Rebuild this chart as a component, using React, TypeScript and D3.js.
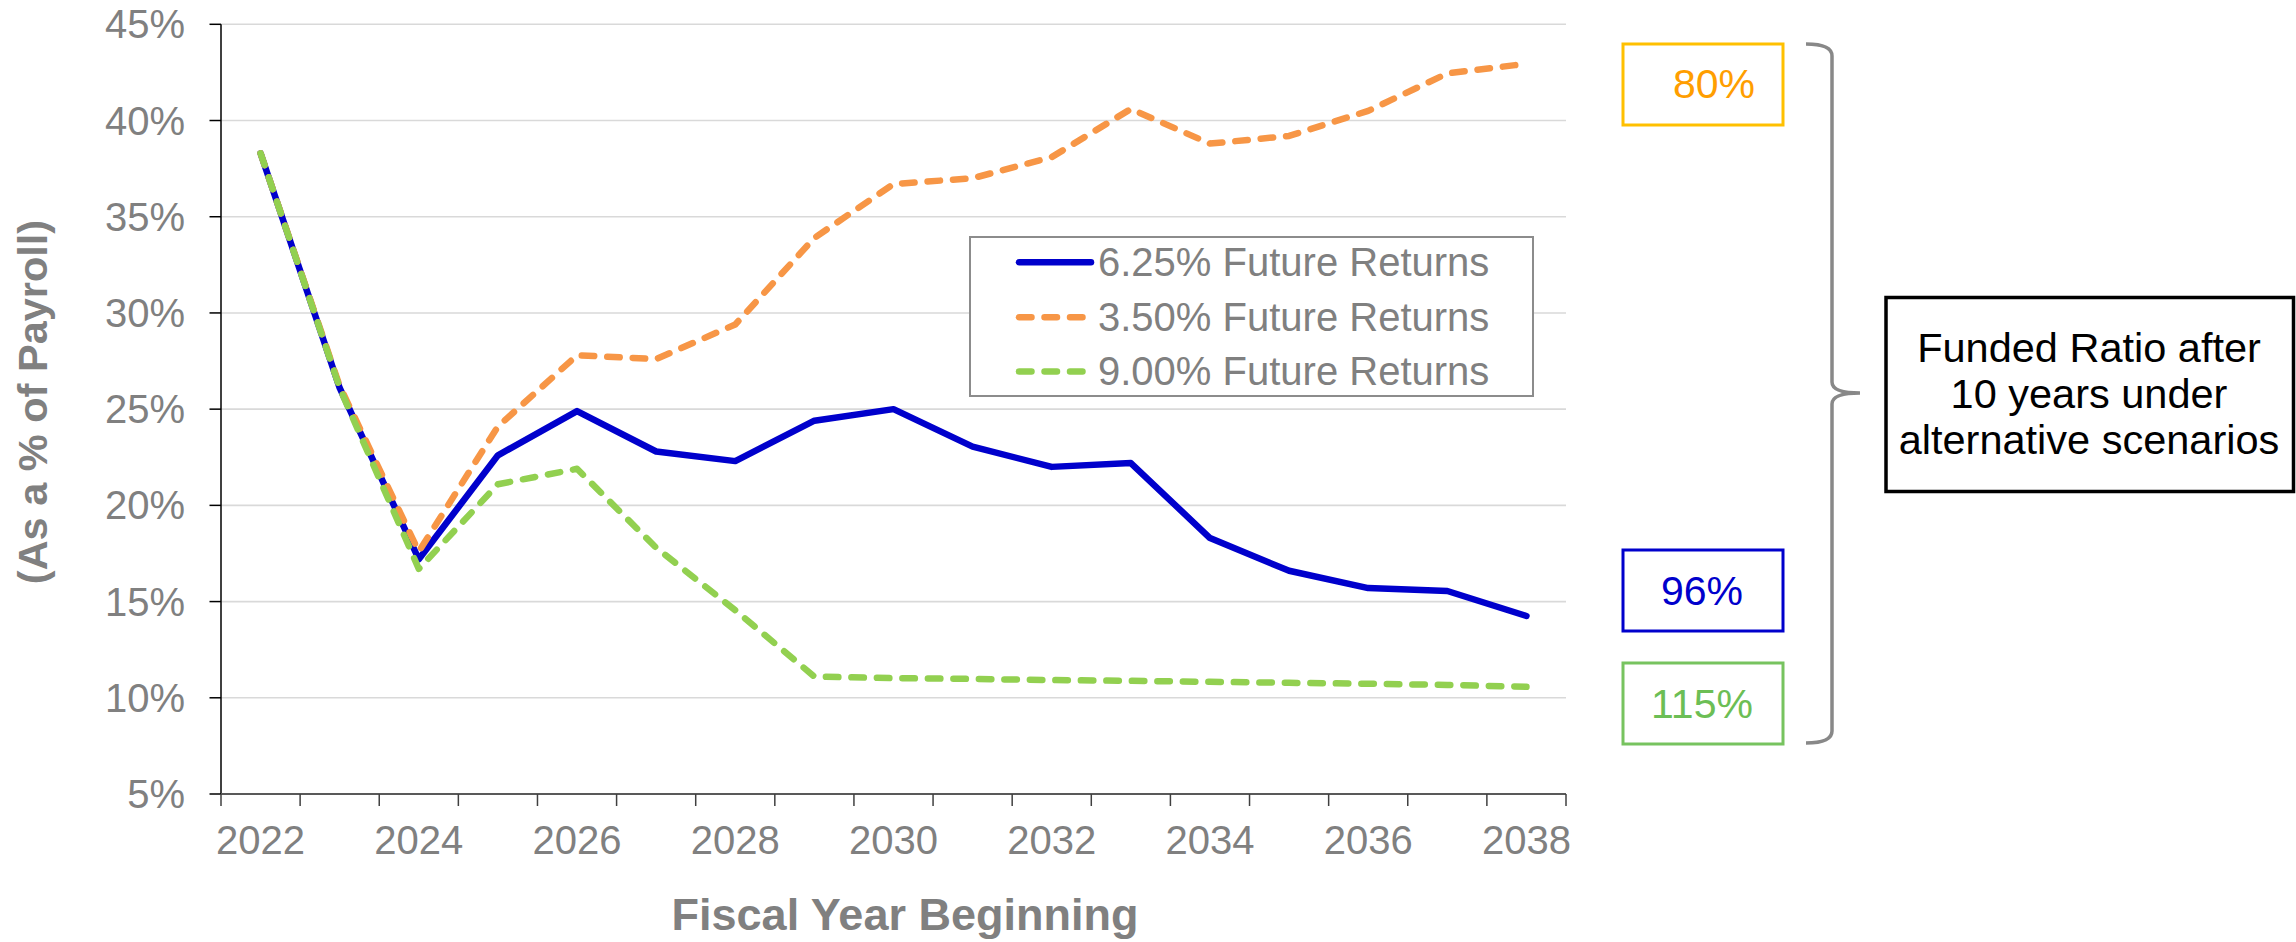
import React from 'react';
import * as d3 from 'd3';

const years = [2022, 2023, 2024, 2025, 2026, 2027, 2028, 2029, 2030, 2031, 2032, 2033, 2034, 2035, 2036, 2037, 2038];
const xTickYears = [2022, 2024, 2026, 2028, 2030, 2032, 2034, 2036, 2038];
const yTicks = [5, 10, 15, 20, 25, 30, 35, 40, 45];

const seriesNames = ['6.25% Future Returns', '3.50% Future Returns', '9.00% Future Returns'];
const returns625 = [38.3, 26.1, 17.2, 22.6, 24.9, 22.8, 22.3, 24.4, 25.0, 23.05, 22.0, 22.2, 18.3, 16.6, 15.7, 15.55, 14.25];
const returns350 = [38.3, 26.2, 17.6, 24.1, 27.8, 27.6, 29.4, 33.9, 36.7, 37.0, 38.1, 40.6, 38.8, 39.2, 40.5, 42.45, 42.95];
const returns900 = [38.3, 26.1, 16.7, 21.1, 21.9, 17.8, 14.55, 11.1, 11.02, 10.98, 10.92, 10.88, 10.83, 10.78, 10.73, 10.67, 10.57];

const fundedRatios = ['80%', '96%', '115%'];
const noteLines = ['Funded Ratio after', '10 years under', 'alternative scenarios'];
const xTitle = 'Fiscal Year Beginning';
const yTitle = '(As a % of Payroll)';

const W = 2296;
const H = 942;
const FONT = '"Liberation Sans", Arial, Helvetica, sans-serif';
const GRAY = '#808080';

const seriesColors = ['#0000CC', '#F79646', '#92D050'];
const seriesDash = [null, '12.5,13', '12.5,13'];
const seriesData = [returns625, returns350, returns900];

export default function App() {
  const left = 221;
  const right = 1566;
  const top = 24.3;
  const bottom = 794;

  const x = d3.scaleBand<number>().domain(years).range([left, right]).padding(0);
  const bw = x.bandwidth();
  const cx = (yr: number) => (x(yr) as number) + bw / 2;
  const y = d3.scaleLinear().domain([5, 45]).range([bottom, top]);

  const line = d3
    .line<number>()
    .x((_, i) => cx(years[i]))
    .y((d) => y(d));

  const boundaries = years.map((yr) => x(yr) as number).concat([right]);

  const boxes = [
    { label: fundedRatios[0], x0: 1623, y0: 44, stroke: '#FFC000', fill: '#FF9E00', tx: 1714, ty: 97.5 },
    { label: fundedRatios[1], x0: 1623, y0: 550, stroke: '#0000CC', fill: '#0000CC', tx: 1702, ty: 604.5 },
    { label: fundedRatios[2], x0: 1623, y0: 663, stroke: '#77C35F', fill: '#6CBE55', tx: 1702, ty: 717.5 },
  ];

  return (
    <svg
      width={W}
      height={H}
      viewBox={`0 0 ${W} ${H}`}
      style={{ position: 'absolute', left: 0, top: 0, background: '#fff' }}
      fontFamily={FONT}
    >
      <rect x={0} y={0} width={W} height={H} fill="#fff" />

      {yTicks
        .filter((t) => t !== 5)
        .map((t) => (
          <line key={'g' + t} x1={left} x2={right} y1={y(t)} y2={y(t)} stroke="#D9D9D9" strokeWidth={1.6} />
        ))}

      <line x1={left} x2={left} y1={top} y2={bottom} stroke="#000" strokeWidth={1.5} />
      {yTicks.map((t) => (
        <g key={'yt' + t}>
          <line x1={left - 11.5} x2={left} y1={y(t)} y2={y(t)} stroke="#000" strokeWidth={1.5} />
          <text x={185} y={y(t) + 14} textAnchor="end" fontSize={40} fill={GRAY}>
            {t}%
          </text>
        </g>
      ))}

      <line x1={left} x2={right} y1={bottom} y2={bottom} stroke="#595959" strokeWidth={2} />
      {boundaries.map((b, i) => (
        <line key={'xt' + i} x1={b} x2={b} y1={bottom} y2={bottom + 12} stroke="#404040" strokeWidth={1.5} />
      ))}
      {xTickYears.map((yr) => (
        <text key={'xl' + yr} x={cx(yr)} y={854} textAnchor="middle" fontSize={40} fill={GRAY}>
          {yr}
        </text>
      ))}

      <text x={905} y={930} textAnchor="middle" fontSize={45} fontWeight="bold" fill={GRAY}>
        {xTitle}
      </text>
      <text
        transform={`translate(47,402) rotate(-90)`}
        textAnchor="middle"
        fontSize={41.5}
        fontWeight="bold"
        fill={GRAY}
      >
        {yTitle}
      </text>

      {seriesData.map((data, i) => (
        <path
          key={'s' + i}
          d={line(data) as string}
          fill="none"
          stroke={seriesColors[i]}
          strokeWidth={6.5}
          strokeLinejoin="round"
          strokeLinecap="round"
          strokeDasharray={seriesDash[i] ?? undefined}
        />
      ))}

      <rect x={970} y={237} width={563} height={159} fill="#fff" stroke="#8C8C8C" strokeWidth={2} />
      {seriesNames.map((name, i) => {
        const ly = [262.3, 317.3, 371.5][i];
        return (
          <g key={'lg' + i}>
            <line
              x1={1019}
              x2={1091}
              y1={ly}
              y2={ly}
              stroke={seriesColors[i]}
              strokeWidth={6.5}
              strokeLinecap="round"
              strokeDasharray={seriesDash[i] ?? undefined}
            />
            <text x={1098} y={ly + 13.5} fontSize={40} fill={GRAY}>
              {name}
            </text>
          </g>
        );
      })}

      {boxes.map((b, i) => (
        <g key={'b' + i}>
          <rect x={b.x0} y={b.y0} width={160} height={81} fill="#fff" stroke={b.stroke} strokeWidth={3} />
          <text x={b.tx} y={b.ty} textAnchor="middle" fontSize={41} fill={b.fill}>
            {b.label}
          </text>
        </g>
      ))}

      <path
        d="M 1806 44 Q 1832 44 1832 56 L 1832 382 Q 1832 393 1860 393 Q 1832 393 1832 404 L 1832 731 Q 1832 743 1806 743"
        fill="none"
        stroke="#888"
        strokeWidth={3.5}
      />

      <rect x={1886} y={297.5} width={407.5} height={194} fill="#fff" stroke="#000" strokeWidth={3.5} />
      {noteLines.map((t, i) => (
        <text key={'n' + i} x={2089} y={[361.7, 408.3, 453.5][i]} textAnchor="middle" fontSize={41.5} fill="#000">
          {t}
        </text>
      ))}
    </svg>
  );
}
